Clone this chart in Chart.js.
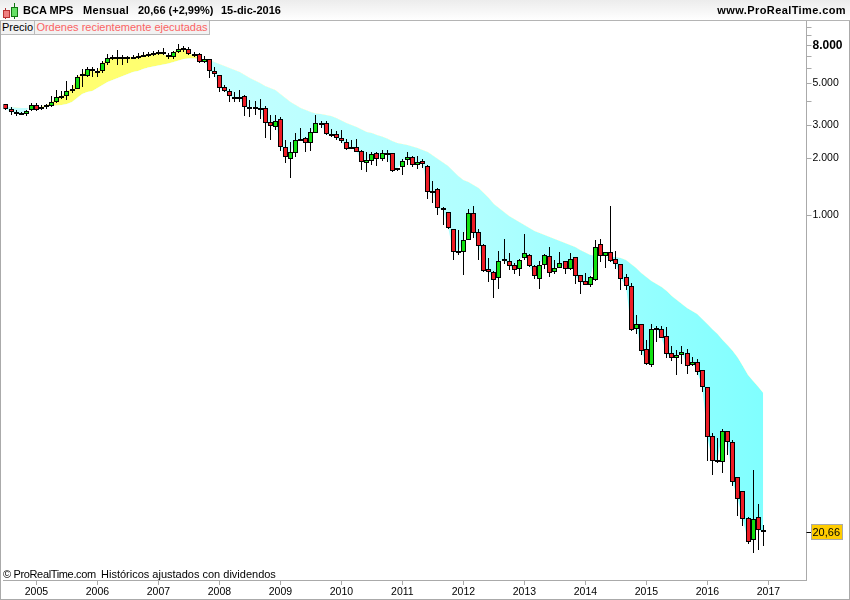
<!DOCTYPE html>
<html>
<head>
<meta charset="utf-8">
<title>BCA MPS</title>
<script src="https://cdn.jsdelivr.net/npm/chart.js@4"></script>
<style>
    html, body { margin: 0; padding: 0; background: #fff; }
    #wrap { position: relative; width: 850px; height: 600px; overflow: hidden; font-family: "Liberation Sans", Arial, sans-serif; font-size: 11px; color: #000; }
    #myChart { position: absolute; left: 0; top: 0; }
    #header { position: absolute; left: 0; top: 0; width: 850px; height: 20px; border-bottom: 1px solid #b4b4b4; background: linear-gradient(#ececec, #fff); font-weight: bold; line-height: 21px; white-space: pre; }
    #header span { position: absolute; top: 0; }
    .tab { position: absolute; top: 21px; height: 13px; line-height: 13px; background: #f2f2f2; border-right: 1px solid #bbb; border-bottom: 1px solid #bbb; white-space: pre; text-align: center; }
    .ico { position: absolute; }
    #frame { position: absolute; left: 0; top: 21px; width: 848px; height: 578px; border-left: 1px solid #aaa; border-right: 1px solid #aaa; border-bottom: 1px solid #aaa; pointer-events: none; }
    .note { position: absolute; top: 568px; white-space: pre; }
</style>
</head>
<body>
<div id="wrap">
    <canvas id="myChart" width="850" height="600"></canvas>
    <div id="frame"></div>
    <div id="header">
        <span style="left:23px">BCA MPS</span>
        <span style="left:83px;letter-spacing:0.3px">Mensual</span>
        <span style="left:138px">20,66 (+2,99%)</span>
        <span style="left:221px">15-dic-2016</span>
        <span style="right:4px;letter-spacing:0.4px">www.ProRealTime.com</span>
    </div>
    <div class="ico" style="left:5px;top:8px;width:1px;height:11px;background:#a33"></div>
    <div class="ico" style="left:3px;top:10px;width:5px;height:6px;background:#f08080;border:1px solid #b33"></div>
    <div class="ico" style="left:14px;top:3px;width:1px;height:16px;background:#171"></div>
    <div class="ico" style="left:11px;top:7px;width:5px;height:8px;background:#66e066;border:1px solid #171"></div>
    <div class="tab" style="left:1px;width:33px">Precio</div>
    <div class="tab" style="left:35px;width:174px;color:#fa6464">Ordenes recientemente ejecutadas</div>
    <div class="note" style="left:3px;letter-spacing:-0.35px">© ProRealTime.com</div>
    <div class="note" style="left:101px">Históricos ajustados con dividendos</div>
</div>

<script>
// monthly candles, Jul 2004 to Dec 2016
var openPrices = [3880, 3650, 3550, 3475, 3459, 3603, 3863, 3648, 3769, 3816,
    4007, 4260, 4278, 4584, 4698, 5465, 5509, 6003, 5810, 5810,
    6408, 6840, 6897, 6729, 6897, 6953, 6981, 7038, 7096, 7154,
    7243, 7332, 7125, 6897, 7332, 7638, 7607, 7184, 7154, 6513,
    6729, 5810, 5532, 4776, 4566, 4260, 4225, 4278, 3693, 3769,
    3693, 3693, 3110, 2926, 3228, 2309, 1977, 2128, 2526, 2557,
    2405, 2719, 3073, 3073, 2708, 2686, 2557, 2435, 2290, 2290,
    2181, 1883, 1929, 2128, 1977, 2128, 2128, 1728, 1793, 1953,
    2027, 1837, 1937, 1815, 1336, 1369, 1085, 1033, 839, 643,
    638, 739, 1020, 809, 690, 514, 500, 460, 581, 567,
    540, 514, 588, 610, 533, 458, 540, 605, 498, 523,
    567, 514, 595, 478, 444, 426, 453, 698, 607, 633,
    581, 546, 466, 417, 248, 262, 193, 159, 248, 249,
    226, 184, 174, 179, 184, 159, 166, 149, 121, 66.5,
    49.5, 48.7, 70.7, 61.8, 40.2, 33.9, 24.3, 18.6, 24.7, 21];
var highPrices = [3890, 3740, 3620, 3517, 3618, 3958, 3926, 3831, 3894, 4295,
    4622, 4584, 5182, 4914, 5554, 5978, 6151, 6151, 6027, 6593,
    7154, 7096, 7545, 7096, 7010, 7096, 7303, 7392, 7392, 7453,
    7545, 7764, 7303, 7484, 8120, 7924, 7859, 7392, 7243, 7010,
    6785, 6151, 5577, 4914, 4660, 4528, 4622, 4348, 4090, 4040,
    4123, 3800, 3404, 3404, 3308, 2505, 2455, 2741, 2890, 2610,
    2890, 3404, 3175, 3150, 2867, 2797, 2832, 2526, 2505, 2526,
    2217, 2172, 2172, 2172, 2217, 2217, 2145, 1771, 1993, 2154,
    2060, 2060, 1977, 1845, 1516, 1386, 1098, 1033, 839, 832,
    815, 1080, 1117, 839, 701, 588, 506, 643, 745, 625,
    558, 581, 789, 620, 542, 569, 618, 676, 576, 636,
    569, 628, 600, 478, 491, 474, 736, 745, 633, 1116,
    643, 549, 486, 433, 294, 262, 216, 263, 258, 258,
    254, 201, 191, 202, 194, 175, 171, 149, 121, 69,
    65.2, 72.7, 70.7, 63.6, 40.2, 33.9, 24.7, 44, 29, 22.4];
var lowPrices = [3620, 3400, 3380, 3404, 3376, 3589, 3589, 3618, 3648, 3769,
    3926, 4123, 4090, 4437, 4660, 4776, 5442, 5442, 5398, 5715,
    6278, 6675, 6278, 6278, 6408, 6729, 6729, 6897, 6897, 7010,
    7096, 7096, 6729, 6757, 7243, 7392, 7096, 6897, 6460, 6408,
    5376, 5398, 4528, 4528, 4007, 4007, 4007, 3376, 3335, 3404,
    3228, 2557, 2505, 2832, 2198, 1898, 1580, 2043, 2485, 2172,
    2198, 2719, 2890, 2664, 2588, 2505, 2424, 2217, 2253, 2154,
    1735, 1700, 1845, 1830, 1945, 1921, 1700, 1714, 1639, 1845,
    1807, 1756, 1785, 1221, 1163, 1000, 885, 842, 576, 613,
    480, 736, 755, 576, 498, 442, 363, 404, 549, 510,
    486, 475, 576, 527, 458, 404, 516, 468, 486, 520,
    486, 510, 430, 380, 422, 412, 446, 562, 522, 562,
    516, 399, 399, 242, 233, 181, 159, 156, 211, 221,
    174, 167, 141, 161, 143, 158, 141, 114, 49.1, 41.4,
    48.1, 42.6, 52.9, 36.2, 25.1, 22.2, 17.8, 16, 16.5, 17.4];
var closePrices = [3650, 3520, 3500, 3445, 3589, 3863, 3633, 3769, 3831, 3975,
    4260, 4295, 4584, 4660, 5442, 5600, 6003, 5810, 5762, 6434,
    6812, 6897, 6729, 6897, 6953, 6897, 7038, 7096, 7184, 7243,
    7332, 7154, 6897, 7332, 7669, 7700, 7154, 7125, 6540, 6729,
    5810, 5600, 4717, 4584, 4278, 4123, 4157, 3739, 3769, 3739,
    3603, 3098, 2962, 3150, 2309, 2027, 2154, 2515, 2495, 2405,
    2752, 3073, 3035, 2686, 2675, 2557, 2465, 2253, 2272, 2172,
    1906, 1953, 2102, 1977, 2128, 2102, 1721, 1771, 1929, 2027,
    1837, 1906, 1875, 1320, 1320, 1085, 1059, 857, 633, 636,
    733, 1020, 799, 681, 506, 495, 453, 567, 574, 537,
    512, 574, 625, 533, 472, 542, 610, 494, 520, 553,
    518, 586, 472, 442, 426, 466, 673, 607, 633, 571,
    546, 458, 421, 246, 262, 190, 161, 249, 251, 222,
    183, 173, 179, 186, 158, 166, 147, 122, 65.7, 49,
    50, 70.7, 61.8, 37.8, 30.7, 24.1, 18.3, 24.1, 21.2, 20.66];

// the two averages of the shaded band
var fastLine = [3650, 3520, 3500, 3445, 3589, 3863, 3633, 3769, 3831, 3975,
    4260, 4295, 4584, 4660, 5442, 5600, 6003, 5810, 5762, 6434,
    6812, 6897, 6729, 6897, 6953, 6897, 7038, 7096, 7184, 7243,
    7332, 7154, 6897, 7332, 7669, 7700, 7154, 7125, 6800, 6729,
    5810, 5600, 4717, 4584, 4278, 4123, 4157, 3739, 3769, 3739,
    3603, 3098, 2962, 3150, 2309, 2027, 2154, 2515, 2495, 2405,
    2752, 3073, 3035, 2686, 2675, 2557, 2465, 2253, 2272, 2172,
    1906, 1953, 2102, 1977, 2128, 2102, 1721, 1771, 1929, 2027,
    1837, 1906, 1875, 1320, 1320, 1085, 1059, 857, 633, 636,
    733, 1020, 799, 681, 506, 495, 453, 567, 574, 537,
    512, 574, 625, 533, 472, 542, 610, 494, 520, 553,
    518, 586, 472, 442, 426, 466, 612, 605, 601, 571,
    546, 458, 421, 246, 262, 190, 161, 249, 251, 222,
    183, 173, 179, 186, 158, 166, 147, 122, 65.7, 49,
    50, 70.7, 61.8, 37.8, 30.7, 24.1, 18.3, 24.1, 21.2, 20.66];
var slowLine = [3754, 3754, 3731, 3708, 3708, 3708, 3708, 3708, 3754, 3800,
    3823, 3847, 3894, 3991, 4191, 4401, 4510, 4566, 4737, 4914,
    5098, 5225, 5354, 5487, 5623, 5762, 5834, 5978, 6089, 6164,
    6240, 6317, 6395, 6513, 6634, 6757, 6798, 6798, 6757, 6716,
    6675, 6513, 6356, 6202, 6052, 5905, 5762, 5554, 5354, 5193,
    5036, 4855, 4737, 4622, 4401, 4191, 3991, 3847, 3708, 3618,
    3531, 3466, 3445, 3404, 3362, 3281, 3182, 3085, 3011, 2938,
    2849, 2763, 2730, 2664, 2615, 2552, 2475, 2415, 2386, 2357,
    2314, 2272, 2217, 2163, 2072, 1985, 1902, 1822, 1714, 1612,
    1535, 1498, 1444, 1392, 1309, 1231, 1144, 1090, 1037, 988,
    952, 918, 885, 853, 822, 802, 783, 764, 745, 727,
    710, 693, 676, 651, 632, 613, 609, 605, 602, 598,
    598, 591, 576, 549, 523, 491, 468, 446, 430, 414,
    394, 371, 353, 336, 320, 309, 297, 280, 263, 247,
    233, 216, 203, 189, 174, 157, 141, 131, 122, 113];

var yTickValues = [10000, 9000, 8000, 7000, 6000, 5000, 4000, 3000, 2000, 1000];
var yTickLabels = ["", "", "8.000", "", "", "5.000", "", "3.000", "2.000", "1.000"];
var lastPrice = 20.66;
var lastPriceLabel = "20,66";

// one slot per month, the axis runs on a bit past the last candle
var months = [];
for (var m = 0; m < 158; m++) {
    var n = 6 + m;
    months.push((2004 + Math.floor(n / 12)) + "-" + String(n % 12 + 1).padStart(2, "0"));
}

var ctx = document.getElementById('myChart').getContext('2d');

var cyan = ctx.createLinearGradient(200, 0, 765, 0);
cyan.addColorStop(0, "#c4ffff");
cyan.addColorStop(0.5, "#b0ffff");
cyan.addColorStop(0.75, "#98ffff");
cyan.addColorStop(1, "#80ffff");

var bodyColors = closePrices.map(function (c, i) {
    return c >= openPrices[i] ? "#10e010" : "#ee1c25";
});

// snap candles to whole pixels so they stay sharp like the original
var snapBars = {
    id: 'snapBars',
    beforeDatasetsDraw: function (chart) {
        chart.data.datasets.forEach(function (ds, i) {
            if (ds.type !== 'bar') return;
            chart.getDatasetMeta(i).data.forEach(function (bar) {
                bar.x = Math.floor(bar.x) + 0.5;
                bar.y = Math.round(bar.y);
                bar.base = Math.round(bar.base);
                if (ds.label === "body" && Math.abs(bar.base - bar.y) < 2) {
                    bar.base = bar.y + 2;
                }
            });
        });
    }
};

// yellow box with the last price on the axis
var priceTag = {
    id: 'priceTag',
    afterDraw: function (chart) {
        var c = chart.ctx;
        var y = Math.round(chart.scales.y.getPixelForValue(lastPrice));
        var left = chart.scales.y.left;
        c.save();
        c.fillStyle = "#000";
        c.fillRect(left, y, 5, 1);
        c.fillStyle = "#ffcc00";
        c.strokeStyle = "#aaa";
        c.fillRect(left + 5, y - 7.5, 31, 15);
        c.strokeRect(left + 5, y - 7.5, 31, 15);
        c.fillStyle = "#000";
        c.font = "11px 'Liberation Sans'";
        c.textBaseline = "middle";
        c.fillText(lastPriceLabel, left + 6, y + 0.5);
        c.restore();
    }
};

var chart = new Chart(ctx, {
    data: {
        labels: months,
        datasets: [{
            type: 'line',
            label: "fast",
            data: fastLine,
            borderWidth: 0,
            pointRadius: 0,
            tension: 0,
            fill: { target: 1, above: "#ffff70", below: cyan },
            order: 3
        }, {
            type: 'line',
            label: "slow",
            data: slowLine,
            borderWidth: 0,
            pointRadius: 0,
            tension: 0,
            fill: false,
            order: 3
        }, {
            type: 'bar',
            label: "wick",
            data: lowPrices.map(function (l, i) { return [l, highPrices[i]]; }),
            backgroundColor: "#000",
            borderWidth: 0,
            barThickness: 1,
            grouped: false,
            inflateAmount: 0,
            order: 2
        }, {
            type: 'bar',
            label: "body",
            data: openPrices.map(function (o, i) { return [o, closePrices[i]]; }),
            backgroundColor: bodyColors,
            borderColor: "#000",
            borderWidth: 1,
            borderSkipped: false,
            barThickness: 5,
            grouped: false,
            inflateAmount: 0,
            order: 1
        }]
    },
    options: {
        responsive: false,
        animation: false,
        layout: { padding: { left: 3.4, top: 21 } },
        plugins: { legend: { display: false }, tooltip: { enabled: false } },
        scales: {
            x: {
                offset: true,
                afterFit: function (s) { s.height = 20; },
                afterBuildTicks: function (s) {
                    s.ticks = s.ticks.filter(function (t) { return months[t.value].slice(5) === "01"; });
                },
                border: { color: "#aaa" },
                grid: { offset: false, drawOnChartArea: false, tickLength: 5, tickColor: "#aaa" },
                ticks: {
                    autoSkip: false,
                    maxRotation: 0,
                    minRotation: 0,
                    padding: 1,
                    color: "#000",
                    font: { family: "Liberation Sans", size: 10.5 },
                    callback: function (value) { return months[value].slice(0, 4); }
                }
            },
            y: {
                type: 'logarithmic',
                position: 'right',
                bounds: 'data',
                min: 11.44,
                max: 10765,
                afterFit: function (s) { s.width = 43.5; },
                afterBuildTicks: function (s) {
                    s.ticks = yTickValues.map(function (v) { return { value: v }; });
                },
                border: { color: "#aaa" },
                grid: { drawOnChartArea: false, tickLength: 5, tickColor: "#aaa" },
                ticks: {
                    autoSkip: false,
                    padding: 1,
                    color: "#000",
                    font: function (c) {
                        var bold = c.tick && c.tick.value === 8000;
                        return { family: "Liberation Sans", size: bold ? 12 : 10.5, weight: bold ? "bold" : "normal" };
                    },
                    callback: function (value) { return yTickLabels[yTickValues.indexOf(value)]; }
                }
            }
        }
    },
    plugins: [snapBars, priceTag]
});
</script>
</body>
</html>
